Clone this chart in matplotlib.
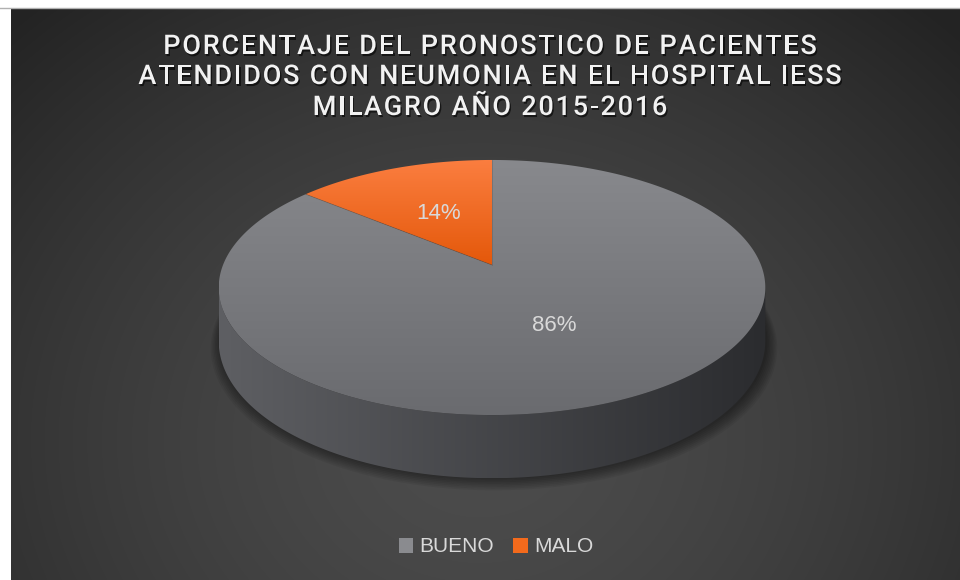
import numpy as np
import matplotlib
matplotlib.use('Agg')
import matplotlib.pyplot as plt
from matplotlib.patches import Polygon, Patch
from matplotlib.colors import to_rgb
from matplotlib import patheffects as pe
from matplotlib.font_manager import FontProperties, findfont
from matplotlib.ft2font import FT2Font

categories = ['BUENO', 'MALO']
values = [86, 14]
pct_labels = ['86%', '14%']
title_lines = ['PORCENTAJE DEL PRONOSTICO DE PACIENTES',
               'ATENDIDOS CON NEUMONIA EN EL HOSPITAL IESS',
               'MILAGRO AÑO 2015-2016']

# styles
face_top = ['#88898d', '#fb7e40']
face_bot = ['#6a6b6f', '#e4580a']
side_left = ['#5e5f63', '#b9500e']
side_right = ['#2b2c2f', '#6a2e08']
legend_colors = ['#8a8b8f', '#f36a1c']

W, H = 960, 580
fig = plt.figure(figsize=(W / 100, H / 100), dpi=100, facecolor='white')
ax = fig.add_axes([0, 0, 1, 1])

# dark radial background
yy, xx = np.mgrid[8:H, 11:W] + 0.5
d = np.clip(np.hypot((xx - 480) / 680, (yy - 440) / 580), 0, 1) ** 1.5
g = (0x4c - (0x4c - 0x23) * d) / 255
ax.imshow(np.dstack([g, g, g]), extent=(11, W, H, 8), zorder=0,
          interpolation='bilinear')
ax.plot([0, W], [7.5, 7.5], color='#b0b0b0', lw=1, zorder=1)

# perspective of the 3d pie
cx, cy, k, a, c, depth = 492, 265, 269, -76.8, 0.1765, 52


def proj(t, r=1.0, down=0.0):
    u, v = r * np.cos(t), r * np.sin(t)
    den = 1 + c * v
    return cx + k * u / den, (a * v + cy + down * depth) / den


def gradient_fill(xy, c0, c1, horizontal, z, xr=None):
    patch = Polygon(xy, closed=True, fc='none', ec='none', zorder=z)
    ax.add_patch(patch)
    x0, y0 = xy.min(0)
    x1, y1 = xy.max(0)
    if xr is not None:
        x0, x1 = xr
    s = np.linspace(0, 1, 256)[:, None]
    cols = (1 - s) * np.array(to_rgb(c0)) + s * np.array(to_rgb(c1))
    img = cols[None, :, :] if horizontal else cols[:, None, :]
    im = ax.imshow(img, extent=(x0, x1, y1, y0), aspect='auto',
                   interpolation='bilinear', zorder=z)
    im.set_clip_path(patch)


frac = np.array(values, float) / sum(values)
edges = np.radians(90 - 360 * np.concatenate([[0], np.cumsum(frac)]))
t_vis = np.arcsin(-c)
vis_lo, vis_hi = -np.pi - t_vis, t_vis
xl, _ = proj(vis_lo)
xr, _ = proj(vis_hi)

# soft shadow under the pie
tt = np.linspace(0, 2 * np.pi, 300)
for s in range(8):
    sx, sy = proj(tt, r=1 + s * 0.005, down=1)
    ax.add_patch(Polygon(np.column_stack([sx + 2, sy + 1 + s * 0.6]),
                         closed=True, fc='black', ec='none', alpha=0.06,
                         zorder=2))

# sides
for i in range(len(values)):
    t0, t1 = edges[i], edges[i + 1]
    lo, hi = max(t1, vis_lo), min(t0, vis_hi)
    if lo >= hi:
        continue
    ts = np.linspace(lo, hi, 200)
    tx, ty = proj(ts)
    bx, by = proj(ts[::-1], down=1)
    xy = np.column_stack([np.r_[tx, bx], np.r_[ty, by]])
    gradient_fill(xy, side_left[i], side_right[i], True, 3, xr=(xl, xr))

# top faces
ox, oy = proj(0.0, r=0)
for i in range(len(values)):
    t0, t1 = edges[i], edges[i + 1]
    ts = np.linspace(t0, t1, 300)
    px, py = proj(ts)
    xy = np.column_stack([np.r_[ox, px], np.r_[oy, py]])
    gradient_fill(xy, face_top[i], face_bot[i], False, 4)
    ax.plot([ox, px[0]], [oy, py[0]], color='#555555', lw=0.5, alpha=0.5,
            zorder=5)
    lx, ly = proj((t0 + t1) / 2, r=0.5)
    ax.text(lx, ly, pct_labels[i], ha='center', va='center', fontsize=16,
            color='#d9d9d9', family='Liberation Sans', zorder=6)

# title with letter spacing
tsize = 19.5
tfp = FontProperties(family='Roboto', weight='medium', size=tsize)
font = FT2Font(findfont(tfp), hinting_factor=1)
font.set_size(tsize, 100)
track = 1.8
shadow = [pe.SimplePatchShadow(offset=(1, -1.5), shadow_rgbFace='black',
                               alpha=0.6), pe.Normal()]
for line, base in zip(title_lines, [54, 84, 115]):
    adv = [font.load_char(ord(ch)).linearHoriAdvance / 65536 for ch in line]
    total = sum(adv) + track * (len(line) - 1)
    x = 490 - total / 2
    for ch, w in zip(line, adv):
        if ch != ' ':
            ax.text(x, base, ch, ha='left', va='baseline', fontproperties=tfp,
                    color='#f2f2f2', path_effects=shadow, zorder=7)
        x += w + track

# legend
handles = [Patch(facecolor=col, edgecolor='none') for col in legend_colors]
leg = ax.legend(handles, categories, loc='center', ncol=2, frameon=False,
                bbox_to_anchor=(496 / W, 1 - 547 / H), handlelength=0.7,
                handleheight=0.7, handletextpad=0.3, columnspacing=0.9,
                prop=FontProperties(family='Liberation Sans', size=15),
                labelcolor='#d9d9d9')

ax.set_xlim(0, W)
ax.set_ylim(H, 0)
ax.axis('off')
fig.savefig('out.png', dpi=100, facecolor='white')
